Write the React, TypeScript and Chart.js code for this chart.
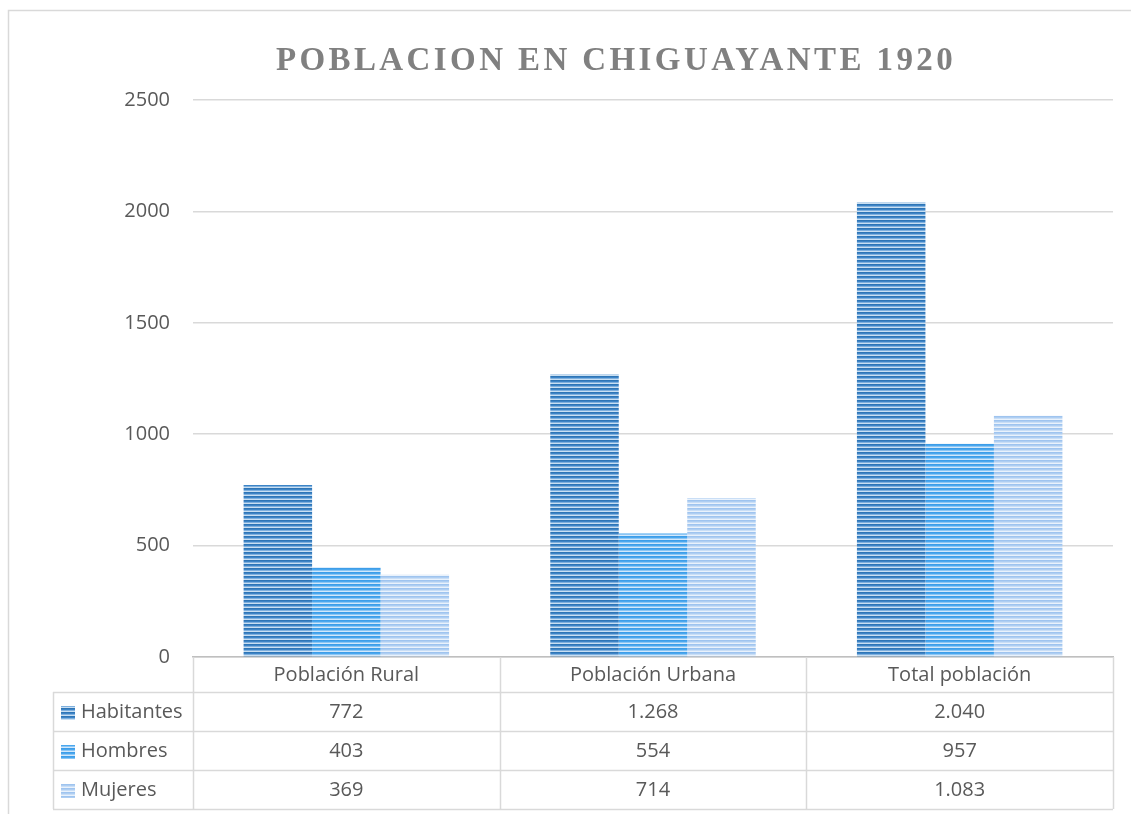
import React, { useEffect, useRef } from "react";
import { Chart, registerables } from "chart.js";

Chart.register(...registerables);

const categories = ["Población Rural", "Población Urbana", "Total población"];
const seriesNames = ["Habitantes", "Hombres", "Mujeres"];
const habitantes = [772, 1268, 2040];
const hombres = [403, 554, 957];
const mujeres = [369, 714, 1083];
const yMax = 2500;
const yStep = 500;
const title = "POBLACION EN CHIGUAYANTE 1920";

const stripeColors = [
  ["#2e75b6", "#3d84c6", "#7fb0de", "#c9dff2"],
  ["#3d9de8", "#4aa7ee", "#8cc6f4", "#d2e8fb"],
  ["#9fc4ef", "#aecef2", "#c9def6", "#e9f2fc"],
];

function makePattern(cols: string[]) {
  const c = document.createElement("canvas");
  c.width = 4;
  c.height = 4;
  const ctx = c.getContext("2d")!;
  cols.forEach((col, i) => {
    ctx.fillStyle = col;
    ctx.fillRect(0, i, 4, 1);
  });
  return ctx.createPattern(c, "repeat")!;
}

function fmt(n: number) {
  return String(n).replace(/\B(?=(\d{3})+(?!\d))/g, ".");
}

const FONT = "'Open Sans', sans-serif";
const TEXT = "#595959";
const LINE = "#d9d9d9";

export default function App() {
  const ref = useRef<HTMLCanvasElement>(null);
  useEffect(() => {
    const canvas = ref.current!;
    const patterns = stripeColors.map(makePattern);
    const values = [habitantes, hombres, mujeres];

    const decor = {
      id: "decor",
      beforeDraw(chart: any) {
        const ctx = chart.ctx;
        ctx.save();
        ctx.fillStyle = "#ffffff";
        ctx.fillRect(0, 0, chart.width, chart.height);
        ctx.restore();
      },
      afterDraw(chart: any) {
        const ctx = chart.ctx;
        const a = chart.chartArea;
        ctx.save();
        // outer border
        ctx.strokeStyle = LINE;
        ctx.lineWidth = 1.5;
        ctx.beginPath();
        ctx.moveTo(8.5, chart.height);
        ctx.lineTo(8.5, 10.5);
        ctx.lineTo(chart.width, 10.5);
        ctx.stroke();

        // title
        ctx.fillStyle = "#808080";
        ctx.font = "bold 33px 'Liberation Serif', serif";
        (ctx as any).letterSpacing = "3.4px";
        ctx.textAlign = "center";
        ctx.textBaseline = "alphabetic";
        ctx.fillText(title, 616, 70);
        (ctx as any).letterSpacing = "0px";

        // data table
        const n = categories.length;
        const colW = (a.right - a.left) / n;
        const headTop = a.bottom;
        const headH = 35;
        const rowH = 39;
        const legLeft = 53;
        const tableBottom = headTop + headH + rowH * seriesNames.length;
        ctx.strokeStyle = LINE;
        ctx.lineWidth = 1.5;
        ctx.beginPath();
        for (let i = 0; i <= n; i++) {
          const x = Math.round(a.left + colW * i) + 0.5;
          ctx.moveTo(x, headTop);
          ctx.lineTo(x, tableBottom);
        }
        ctx.moveTo(legLeft + 0.5, headTop + headH);
        ctx.lineTo(legLeft + 0.5, tableBottom);
        for (let r = 0; r <= seriesNames.length; r++) {
          const y = Math.round(headTop + headH + rowH * r) + 0.5;
          ctx.moveTo(legLeft, y);
          ctx.lineTo(a.right, y);
        }
        ctx.stroke();

        ctx.font = `20px ${FONT}`;
        ctx.fillStyle = TEXT;
        ctx.textAlign = "center";
        ctx.textBaseline = "middle";
        categories.forEach((c, i) => {
          ctx.fillText(c, a.left + colW * (i + 0.5), headTop + headH / 2 + 1);
        });
        seriesNames.forEach((s, r) => {
          const cy = headTop + headH + rowH * (r + 0.5) + 1;
          ctx.fillStyle = patterns[r];
          ctx.fillRect(61, Math.round(cy - 7), 14, 14);
          ctx.fillStyle = TEXT;
          ctx.textAlign = "left";
          ctx.fillText(s, 81, cy);
          ctx.textAlign = "center";
          values[r].forEach((v, i) => {
            ctx.fillText(fmt(v), a.left + colW * (i + 0.5), cy);
          });
        });
        ctx.restore();
      },
    };

    const chart = new Chart(canvas, {
      type: "bar",
      data: {
        labels: categories,
        datasets: seriesNames.map((name, i) => ({
          label: name,
          data: values[i],
          backgroundColor: patterns[i],
          borderWidth: 0,
          categoryPercentage: 0.67,
          barPercentage: 1.0,
        })),
      },
      options: {
        responsive: false,
        animation: false,
        events: [],
        layout: { padding: { left: 0, right: 18, top: 100, bottom: 157 } },
        plugins: {
          legend: { display: false },
          tooltip: { enabled: false },
          title: { display: false },
        },
        scales: {
          x: {
            grid: { display: false, drawTicks: false },
            ticks: { display: false },
            border: { display: true, color: "#bfbfbf", width: 1.5 },
            afterFit: (s: any) => {
              s.height = 0;
            },
          },
          y: {
            min: 0,
            max: yMax,
            ticks: {
              stepSize: yStep,
              padding: 23,
              color: TEXT,
              font: { family: FONT, size: 20 },
              callback: (v: any) => String(v),
            },
            grid: { color: LINE, lineWidth: 1.5, drawTicks: false },
            border: { display: false },
            afterFit: (s: any) => {
              s.width = 193;
            },
          },
        },
      },
      plugins: [decor],
    });
    return () => chart.destroy();
  }, []);
  return (
    <div style={{ position: "fixed", left: 0, top: 0, width: 1131, height: 814, background: "#fff" }}>
      <canvas ref={ref} width={1131} height={814} style={{ display: "block" }} />
    </div>
  );
}
